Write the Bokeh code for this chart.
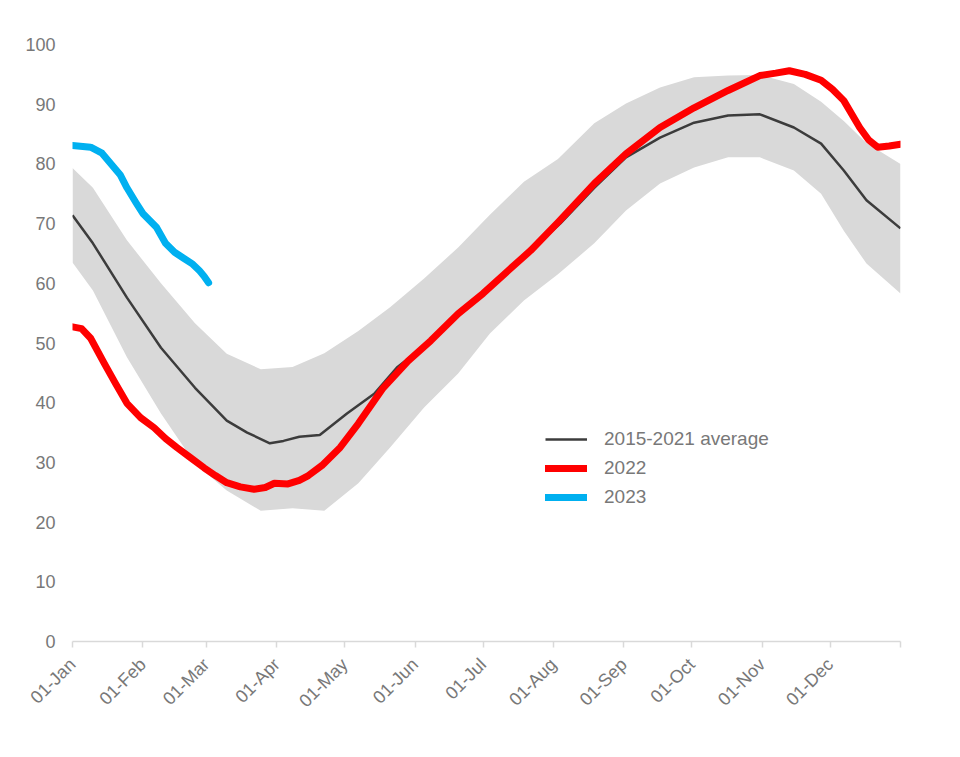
import math

from bokeh.embed import file_html
from bokeh.models import FixedTicker, Legend, LegendItem, Range1d
from bokeh.plotting import figure
from bokeh.resources import INLINE

# day-of-year positions of the month ticks and their labels
tick_days = [0, 31, 59, 90, 120, 151, 181, 212, 243, 273, 304, 334, 365]
tick_labels = ["01-Jan", "01-Feb", "01-Mar", "01-Apr", "01-May", "01-Jun",
               "01-Jul", "01-Aug", "01-Sep", "01-Oct", "01-Nov", "01-Dec", ""]

# 2015-2021 min/max range
band_days = [0, 9, 24, 39, 54, 68, 83, 97, 111, 126, 140, 155, 170, 184,
             199, 214, 230, 244, 259, 274, 289, 303, 318, 330, 340, 350, 365]
band_max = [79.3, 76.0, 67.2, 60.0, 53.3, 48.2, 45.6, 46.0, 48.3, 52.0, 56.0,
            60.8, 66.0, 71.5, 77.0, 80.8, 86.8, 90.1, 92.8, 94.5, 94.8, 94.9,
            93.4, 90.4, 87.2, 83.5, 80.0]
band_min = [63.5, 58.8, 47.6, 38.2, 29.8, 25.3, 21.9, 22.3, 21.9, 26.5, 32.5,
            39.2, 44.9, 51.6, 57.1, 61.5, 66.7, 72.2, 76.7, 79.4, 81.1, 81.1,
            78.9, 75.0, 68.8, 63.3, 58.3]

# 2015-2021 average
avg_days = [0, 9, 24, 39, 54, 68, 77, 87, 93, 100, 109, 121, 133, 143, 158,
            170, 181, 192, 202, 215, 230, 244, 259, 274, 289, 303, 318, 330,
            340, 350, 365]
avg_vals = [71.4, 66.7, 57.6, 49.2, 42.5, 37.0, 35.0, 33.2, 33.6, 34.3, 34.6,
            38.2, 41.5, 45.9, 50.4, 54.9, 58.3, 62.1, 65.5, 70.0, 76.0, 81.1,
            84.4, 86.9, 88.1, 88.3, 86.1, 83.4, 78.9, 73.9, 69.2]

# 2022
y2022_days = [0, 4, 8, 14, 19, 24, 30, 36, 41, 46, 52, 58, 63, 68, 74, 80,
              85, 89, 95, 100, 104, 110, 118, 126, 137, 148, 158, 170, 181,
              192, 202, 214, 230, 244, 259, 274, 289, 303, 310, 316, 323, 330,
              335, 340, 347, 351, 355, 360, 365]
y2022_vals = [52.7, 52.4, 50.8, 46.6, 43.2, 39.9, 37.5, 35.8, 34.0, 32.5, 30.8,
              29.1, 27.8, 26.6, 25.9, 25.5, 25.8, 26.5, 26.4, 27.0, 27.8, 29.5,
              32.5, 36.5, 42.5, 47.0, 50.4, 54.9, 58.3, 62.1, 65.5, 70.2, 76.7,
              81.7, 86.1, 89.4, 92.3, 94.8, 95.2, 95.6, 95.0, 94.0, 92.5, 90.6,
              86.1, 84.0, 82.8, 83.0, 83.3]

# 2023
y2023_days = [0, 8, 13, 17, 21, 24, 28, 31, 37, 41, 45, 49, 53, 56, 58, 60]
y2023_vals = [83.1, 82.8, 81.8, 80.0, 78.2, 76.0, 73.5, 71.7, 69.4, 66.7, 65.2,
              64.2, 63.2, 62.1, 61.2, 60.1]

FONT = "Liberation Sans"
GREY_TEXT = "#787878"

p = figure(width=950, height=745, output_backend="svg", toolbar_location=None,
           x_range=Range1d(0, 365), y_range=Range1d(0, 100),
           min_border_left=72, min_border_right=50, min_border_top=44,
           min_border_bottom=104)
p.outline_line_color = None
p.grid.grid_line_color = None

p.varea(x=band_days, y1=band_min, y2=band_max, fill_color="#d9d9d9")
r_avg = p.line(avg_days, avg_vals, line_color="#3c3c3c", line_width=2.5)
r_2022 = p.line(y2022_days, y2022_vals, line_color="#ff0000", line_width=7,
                line_cap="round", line_join="round")
r_2023 = p.line(y2023_days, y2023_vals, line_color="#00b0f0", line_width=7,
                line_cap="round", line_join="round")

xa = p.xaxis[0]
xa.ticker = FixedTicker(ticks=tick_days)
xa.major_label_overrides = {d: lab for d, lab in zip(tick_days, tick_labels)}
xa.major_label_orientation = math.pi / 4
xa.axis_line_color = "#d9d9d9"
xa.axis_line_width = 1.5
xa.major_tick_line_color = "#d9d9d9"
xa.major_tick_line_width = 1.5
xa.major_tick_out = 6
xa.major_tick_in = 0
xa.minor_tick_line_color = None
xa.major_label_standoff = 14
xa.major_label_text_font = FONT
xa.major_label_text_font_size = "18px"
xa.major_label_text_color = GREY_TEXT

ya = p.yaxis[0]
ya.ticker = FixedTicker(ticks=list(range(0, 101, 10)))
ya.axis_line_color = None
ya.major_tick_line_color = None
ya.minor_tick_line_color = None
ya.major_tick_out = 0
ya.major_tick_in = 0
ya.major_label_standoff = 17
ya.major_label_text_font = FONT
ya.major_label_text_font_size = "18px"
ya.major_label_text_color = GREY_TEXT

legend = Legend(items=[LegendItem(label="2015-2021 average", renderers=[r_avg]),
                       LegendItem(label="2022", renderers=[r_2022]),
                       LegendItem(label="2023", renderers=[r_2023])],
                location=(473, 130), padding=0, margin=0, spacing=1,
                glyph_width=42, glyph_height=28, label_height=28,
                label_standoff=17, label_text_font=FONT,
                label_text_font_size="19px", label_text_color=GREY_TEXT,
                border_line_color=None, background_fill_alpha=0)
p.add_layout(legend)

open("out.html", "w").write(file_html(p, INLINE))
